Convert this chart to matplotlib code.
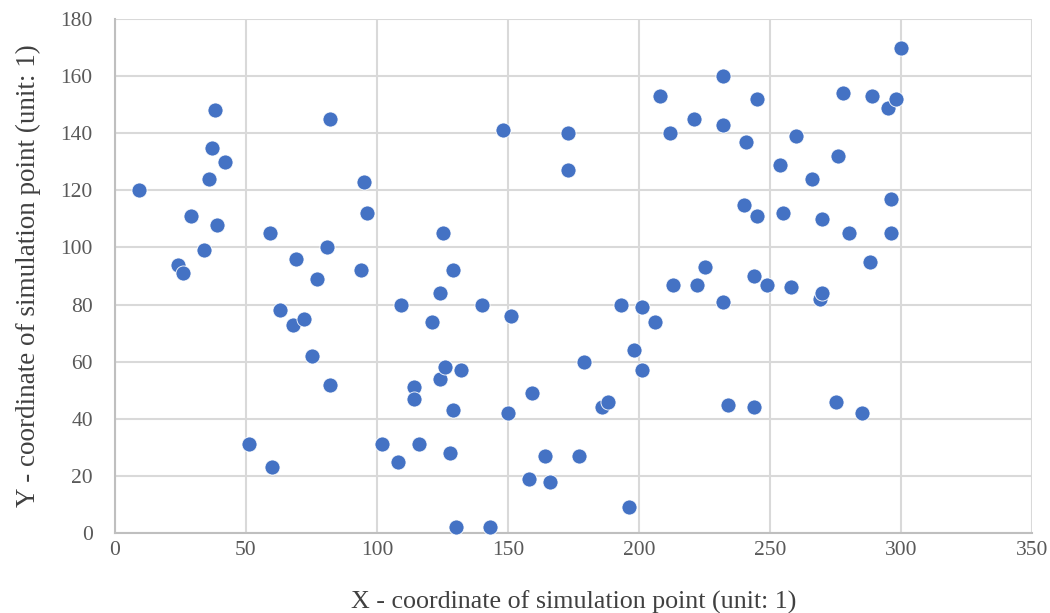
import matplotlib
matplotlib.use("Agg")
import matplotlib.pyplot as plt

x_vals = [9, 24, 26, 29, 34, 36, 37, 38, 39, 42,
          51, 59, 60, 63, 68, 69, 72, 75, 77, 81,
          82, 82, 94, 95, 96, 102, 108, 109, 114, 114,
          116, 121, 124, 124, 125, 126, 128, 129, 129, 130,
          132, 140, 143, 148, 150, 151, 158, 159, 164, 166,
          173, 173, 177, 179, 186, 188, 193, 196, 198, 201,
          201, 206, 208, 212, 213, 221, 222, 225, 232, 232,
          232, 234, 240, 241, 244, 244, 245, 245, 249, 254,
          255, 258, 260, 266, 269, 270, 270, 275, 276, 278,
          280, 285, 288, 289, 295, 296, 296, 298, 300]
y_vals = [120, 94, 91, 111, 99, 124, 135, 148, 108, 130,
          31, 105, 23, 78, 73, 96, 75, 62, 89, 100,
          145, 52, 92, 123, 112, 31, 25, 80, 51, 47,
          31, 74, 84, 54, 105, 58, 28, 92, 43, 2,
          57, 80, 2, 141, 42, 76, 19, 49, 27, 18,
          140, 127, 27, 60, 44, 46, 80, 9, 64, 79,
          57, 74, 153, 140, 87, 145, 87, 93, 160, 143,
          81, 45, 115, 137, 90, 44, 152, 111, 87, 129,
          112, 86, 139, 124, 82, 84, 110, 46, 132, 154,
          105, 42, 95, 153, 149, 117, 105, 152, 170]

x_ticks = [0, 50, 100, 150, 200, 250, 300, 350]
y_ticks = [0, 20, 40, 60, 80, 100, 120, 140, 160, 180]
x_label = "X - coordinate of simulation point (unit: 1)"
y_label = "Y - coordinate of simulation point (unit: 1)"

plt.rcParams['font.family'] = ['Liberation Serif', 'DejaVu Serif']

fig = plt.figure(figsize=(10.5, 6.13), dpi=100)
ax = fig.add_axes([115/1050, 1 - 533/613, (1032 - 115)/1050, (533 - 19)/613])

ax.scatter(x_vals, y_vals, s=118, color='#4472C4', edgecolors='white',
           linewidths=0.6, zorder=3, clip_on=False)

ax.set_xlim(0, 350)
ax.set_ylim(0, 180)
ax.set_xticks(x_ticks)
ax.set_yticks(y_ticks)
ax.grid(True, color='#D9D9D9', linewidth=1.5, zorder=0)
ax.set_axisbelow(True)
for side in ['top', 'right']:
    ax.spines[side].set_visible(False)
for side in ['left', 'bottom']:
    ax.spines[side].set_color('#BFBFBF')
    ax.spines[side].set_linewidth(1.5)
ax.tick_params(axis='both', length=0, labelsize=15.5, labelcolor='#595959')
ax.tick_params(axis='x', pad=6)
ax.tick_params(axis='y', pad=16)

ax.set_xlabel(x_label, fontsize=18.7, color='#404040', labelpad=22)
ax.set_ylabel(y_label, fontsize=19.5, color='#404040', labelpad=14)

fig.savefig("out.png", dpi=100)
